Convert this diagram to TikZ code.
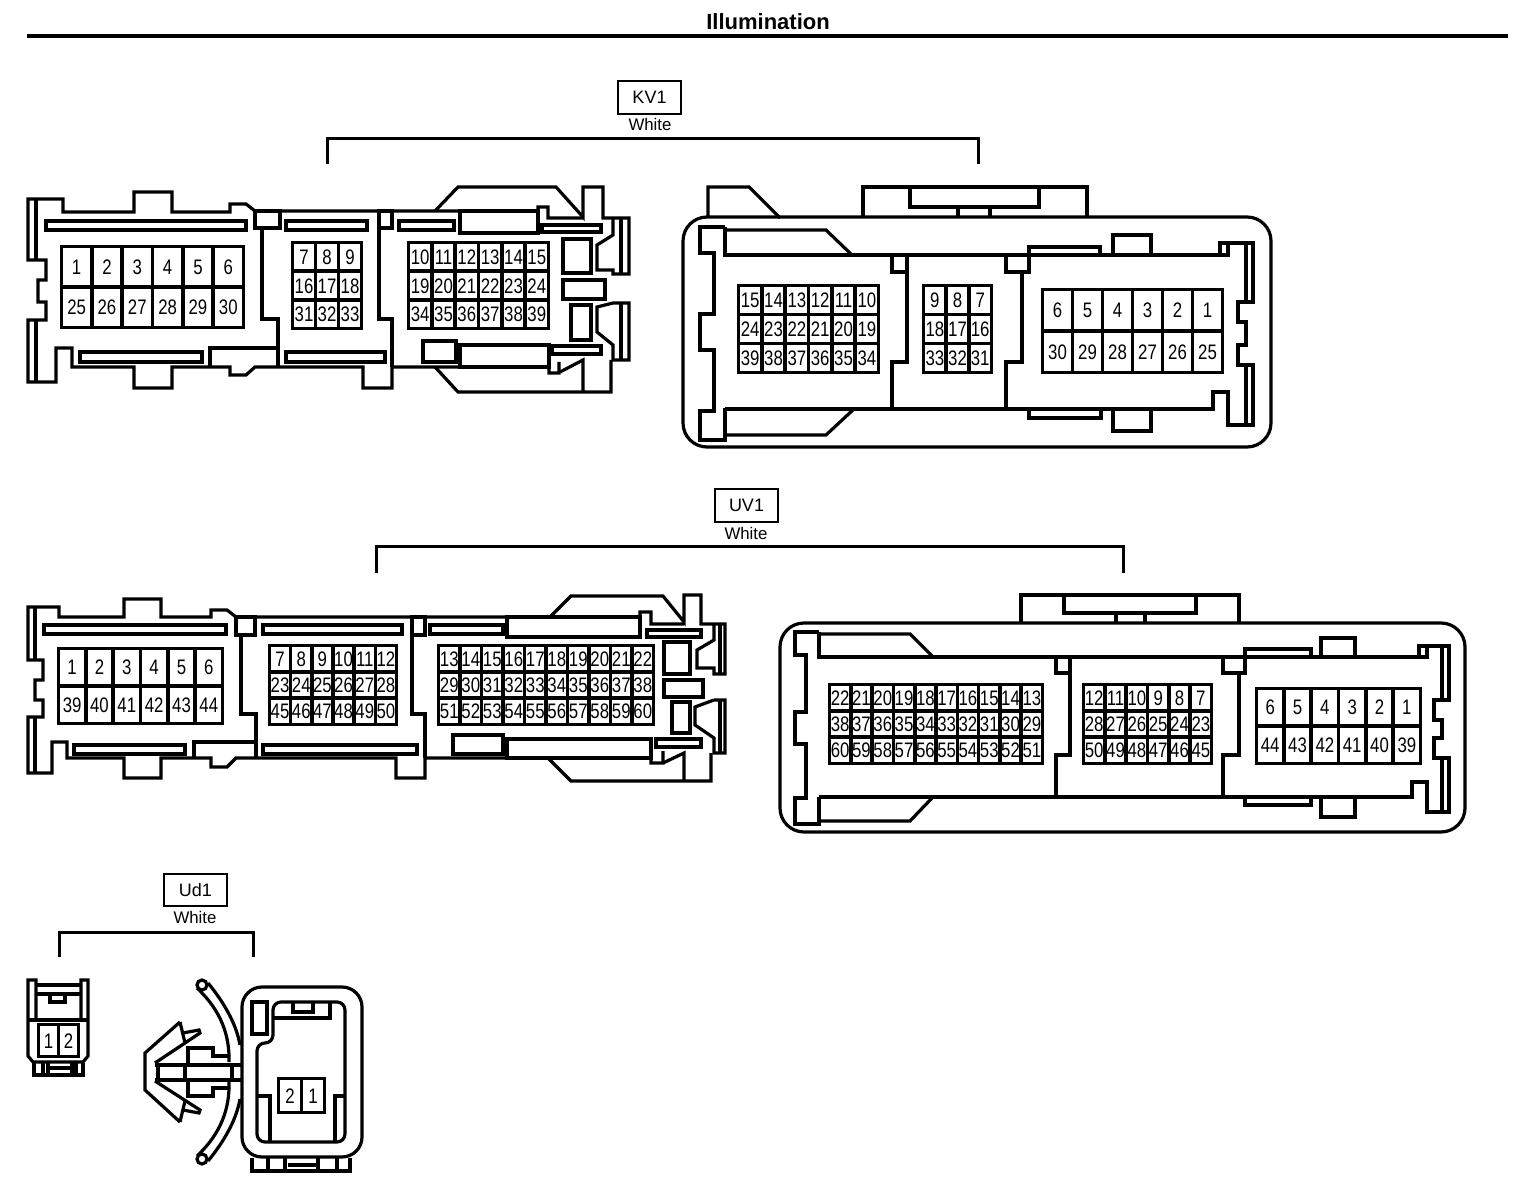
\documentclass[tikz,border=0pt]{standalone}
\usepackage{fontspec}
\setmainfont{Liberation Sans}
\newfontfamily\pinfont[FakeStretch=0.8]{Liberation Sans}
\tikzset{
  shell/.style={draw,line width=1.6pt},
  slot/.style={draw,line width=1.6pt},
  pincell/.style={draw,line width=1.8pt,inner sep=0pt,text height=7.6pt,text depth=0pt,font=\pinfont\fontsize{10.5}{10.5}\selectfont},
  tagbox/.style={draw,line width=0.8pt,inner sep=0pt,font=\fontsize{9}{9}\selectfont},
  colourtext/.style={inner sep=0pt,font=\fontsize{8.4}{9}\selectfont},
  bracket/.style={draw,line width=1.5pt}
}
% name, x0, y0, x1, y1, columns, rows, labels
\newcommand{\pinblock}[8]{
  \pgfmathsetmacro{\cellw}{(#4-#2-3)/#6}
  \pgfmathsetmacro{\cellh}{(#5-#3-3)/#7}
  \foreach \lab [count=\idx from 0] in {#8} {
    \pgfmathtruncatemacro{\rowno}{int(\idx/#6)}
    \pgfmathtruncatemacro{\colno}{\idx-\rowno*#6}
    \node[pincell,minimum width={\cellw*0.5pt},minimum height={\cellh*0.5pt}] (#1-\lab)
      at (#2+1.5+\cellw*\colno+\cellw/2,#3+1.5+\cellh*\rowno+\cellh/2) {\lab};
  }
}
\begin{document}
\begin{tikzpicture}[x=0.5pt,y=-0.5pt]
  \useasboundingbox (0,0) rectangle (1536,1186);
  \node[inner sep=0pt,font=\bfseries\fontsize{11}{11}\selectfont] (title) at (768,22) {Illumination};
  \coordinate (ruleL) at (27,36);
  \coordinate (ruleR) at (1508,36);
  \draw[line width=2pt] (ruleL) -- (ruleR);

  % KV1 heading
  \node[tagbox,minimum width=31.5pt,minimum height=16.5pt] (kv1tag) at (649.5,97.5) {KV1};
  \node[colourtext] (kv1col) at (650,125) {White};
  \coordinate (kv1L) at (327,164);
  \coordinate (kv1R) at (978,164);
  \draw[bracket] (kv1L) -- (327,139) -- (978,139) -- (kv1R);

  % KV1 left view
  \draw[shell] (36,199) -- (28,199) -- (28,260) -- (46,260) -- (46,280) -- (38,280) -- (38,302) -- (46,302) -- (46,320) -- (28,320) -- (28,382) -- (56,382) -- (56,348) -- (72,348) -- (72,367) -- (134,367) -- (134,388) -- (172,388) -- (172,367) -- (230,367) -- (230,375) -- (246,375) -- (255,367) -- (363,367) -- (363,388) -- (392,388) -- (392,367) -- (549,367) -- (549,373) -- (559,373) -- (559,362);
  \draw[shell] (36,199) -- (63,199) -- (63,212) -- (134,212) -- (134,192) -- (172,192) -- (172,212) -- (230,212) -- (230,204) -- (246,204) -- (255,211) -- (538,211) -- (538,207) -- (548,207) -- (548,218) -- (583,218);
  \draw[shell] (36,199) -- (36,260) (36,320) -- (36,382);
  \draw[shell] (435,211) -- (458,187) -- (556,187) -- (583,217) -- (583,187) -- (603,187) -- (603,218) -- (629,218) -- (629,274) -- (613,274) -- (613,270) -- (597,270) -- (597,245) -- (613,235) -- (613,218);
  \draw[shell] (621,218) -- (621,274) (621,303) -- (621,360);
  \draw[shell] (613,303) -- (629,303) -- (629,360) -- (613,360) -- (613,345) -- (597,332) -- (597,307) -- (613,303);
  \draw[shell] (435,367) -- (458,392) -- (611,392) -- (611,360) (583,392) -- (583,360) -- (560,372);
  \draw[shell] (255,211) rectangle (280,228);
  \draw[shell] (379,211) rectangle (392,228);
  \draw[shell] (262,228) -- (262,319) -- (278,319) -- (278,367);
  \draw[shell] (379,228) -- (379,319) -- (392,319) -- (392,367);
  \draw[shell] (278,348) -- (210,348) -- (210,367);
  \draw[shell] (460,211) rectangle (538,233);
  \draw[shell] (460,345) rectangle (549,367);
  \draw[shell] (423,341) rectangle (456,362);
  \draw[shell] (563,239) rectangle (591,273);
  \draw[shell] (563,280) rectangle (605,299);
  \draw[shell] (571,305) rectangle (591,340);
  \draw[slot] (46,221) rectangle (246,230);
  \draw[slot] (286,221) rectangle (367,230);
  \draw[slot] (399,221) rectangle (454,230);
  \draw[slot] (542,225) rectangle (601,232);
  \draw[slot] (80,352) rectangle (202,362);
  \draw[slot] (286,352) rectangle (385,362);
  \draw[slot] (552,346) rectangle (601,354);
  \pinblock{kvla}{60}{245}{245}{329}{6}{2}{1,2,3,4,5,6,25,26,27,28,29,30}
  \pinblock{kvlb}{291}{241}{363}{330}{3}{3}{7,8,9,16,17,18,31,32,33}
  \pinblock{kvlc}{407}{241}{550}{330}{6}{3}{10,11,12,13,14,15,19,20,21,22,23,24,34,35,36,37,38,39}

  % KV1 right view
  \draw[shell,rounded corners=12pt] (683,217) rectangle (1271,447);
  \draw[shell] (708,217) -- (708,187) -- (749,187) -- (780,218);
  \draw[shell] (863,217) -- (863,187) -- (1087,187) -- (1087,217);
  \draw[shell] (910,187) -- (910,207) -- (1039,207) -- (1039,187);
  \draw[shell] (958,207) -- (958,217) (990,207) -- (990,217);
  \draw[shell] (725,227) -- (700,227) -- (700,253) -- (714,253) -- (714,314) -- (700,314) -- (700,350) -- (714,350) -- (714,411) -- (700,411) -- (700,440) -- (725,440) -- (725,408);
  \draw[shell] (725,227) -- (725,255) -- (1228,255) -- (1228,243) -- (1220,243) -- (1220,255);
  \draw[shell] (1228,243) -- (1253,243) -- (1253,302) -- (1238,302) -- (1238,322) -- (1246,322) -- (1246,345) -- (1238,345) -- (1238,365) -- (1253,365) -- (1253,425) -- (1228,425) -- (1228,392) -- (1213,392) -- (1213,409) -- (725,409);
  \draw[shell] (1246,243) -- (1246,302) (1246,365) -- (1246,425);
  \draw[shell] (725,230) -- (826,230) -- (852,255);
  \draw[shell] (725,435) -- (826,435) -- (854,409);
  \draw[shell] (892,255) -- (892,272) -- (907,272);
  \draw[shell] (907,255) -- (907,362) -- (892,362) -- (892,409);
  \draw[shell] (1006,255) -- (1006,272) -- (1029,272) -- (1029,255);
  \draw[shell] (1022,272) -- (1022,362) -- (1006,362) -- (1006,409);
  \draw[shell] (1029,255) -- (1029,247) -- (1100,247) -- (1100,255);
  \draw[shell] (1113,255) -- (1113,235) -- (1151,235) -- (1151,255);
  \draw[shell] (1029,409) -- (1029,418) -- (1101,418) -- (1101,409);
  \draw[shell] (1113,409) -- (1113,431) -- (1151,431) -- (1151,409);
  \pinblock{kvra}{737}{284}{880}{374}{6}{3}{15,14,13,12,11,10,24,23,22,21,20,19,39,38,37,36,35,34}
  \pinblock{kvrb}{922}{284}{993}{374}{3}{3}{9,8,7,18,17,16,33,32,31}
  \pinblock{kvrc}{1041}{288}{1224}{374}{6}{2}{6,5,4,3,2,1,30,29,28,27,26,25}

  % UV1 heading
  \node[tagbox,minimum width=31.5pt,minimum height=16.5pt] (uv1tag) at (746.5,505.5) {UV1};
  \node[colourtext] (uv1col) at (746,533) {White};
  \coordinate (uv1L) at (376,573);
  \coordinate (uv1R) at (1123,573);
  \draw[bracket] (uv1L) -- (376,547) -- (1123,547) -- (uv1R);

  % UV1 left view
  \draw[shell] (35,607) -- (28,607) -- (28,660) -- (43,660) -- (43,680) -- (35,680) -- (35,700) -- (43,700) -- (43,717) -- (28,717) -- (28,773) -- (52,773) -- (52,742) -- (67,742) -- (67,758) -- (124,758) -- (124,778) -- (161,778) -- (161,758) -- (211,758) -- (211,767) -- (227,767) -- (236,758) -- (396,758) -- (396,778) -- (425,778) -- (425,758) -- (651,758) -- (651,763) -- (663,763) -- (663,751);
  \draw[shell] (35,607) -- (59,607) -- (59,617) -- (124,617) -- (124,599) -- (161,599) -- (161,617) -- (211,617) -- (211,610) -- (227,610) -- (236,617) -- (640,617) -- (640,612) -- (651,612) -- (651,624) -- (684,624);
  \draw[shell] (35,607) -- (35,660) (35,717) -- (35,773);
  \draw[shell] (550,617) -- (571,596) -- (663,596) -- (684,622) -- (684,595) -- (701,595) -- (701,624) -- (725,624) -- (725,674) -- (714,674) -- (714,668) -- (697,668) -- (697,650) -- (714,640) -- (714,624);
  \draw[shell] (720,624) -- (720,674) (720,700) -- (720,753);
  \draw[shell] (714,700) -- (725,700) -- (725,753) -- (714,753) -- (714,738) -- (695,725) -- (695,707) -- (714,700);
  \draw[shell] (548,758) -- (571,781) -- (711,781) -- (711,753) (684,781) -- (684,753) -- (663,763);
  \draw[shell] (236,617) rectangle (255,635);
  \draw[shell] (412,617) rectangle (425,635);
  \draw[shell] (241,635) -- (241,714) -- (256,714) -- (256,758);
  \draw[shell] (412,635) -- (412,714) -- (425,714) -- (425,758);
  \draw[shell] (256,742) -- (194,742) -- (194,758);
  \draw[shell] (507,617) rectangle (640,637);
  \draw[shell] (507,739) rectangle (651,758);
  \draw[shell] (453,735) rectangle (503,754);
  \draw[shell] (664,642) rectangle (690,674);
  \draw[shell] (664,680) rectangle (703,697);
  \draw[shell] (672,702) rectangle (690,733);
  \draw[slot] (44,625) rectangle (226,634);
  \draw[slot] (263,625) rectangle (402,634);
  \draw[slot] (430,625) rectangle (503,634);
  \draw[slot] (647,630) rectangle (701,637);
  \draw[slot] (74,745) rectangle (185,754);
  \draw[slot] (263,745) rectangle (417,754);
  \draw[slot] (656,739) rectangle (701,747);
  \pinblock{uvla}{57}{647}{224}{725}{6}{2}{1,2,3,4,5,6,39,40,41,42,43,44}
  \pinblock{uvlb}{268}{644}{398}{726}{6}{3}{7,8,9,10,11,12,23,24,25,26,27,28,45,46,47,48,49,50}
  \pinblock{uvlc}{437}{644}{655}{726}{10}{3}{13,14,15,16,17,18,19,20,21,22,29,30,31,32,33,34,35,36,37,38,51,52,53,54,55,56,57,58,59,60}

  % UV1 right view
  \draw[shell,rounded corners=12pt] (780,623) rectangle (1465,832);
  \draw[shell] (1021,623) -- (1021,595) -- (1239,595) -- (1239,623);
  \draw[shell] (1064,595) -- (1064,613) -- (1196,613) -- (1196,595);
  \draw[shell] (1116,613) -- (1116,623) (1145,613) -- (1145,623);
  \draw[shell] (819,632) -- (795,632) -- (795,655) -- (806,655) -- (806,712) -- (795,712) -- (795,744) -- (806,744) -- (806,798) -- (795,798) -- (795,824) -- (819,824) -- (819,797);
  \draw[shell] (819,632) -- (819,657) -- (1427,657) -- (1427,646) -- (1419,646) -- (1419,657);
  \draw[shell] (1427,646) -- (1449,646) -- (1449,700) -- (1434,700) -- (1434,720) -- (1442,720) -- (1442,738) -- (1434,738) -- (1434,758) -- (1449,758) -- (1449,812) -- (1427,812) -- (1427,782) -- (1412,782) -- (1412,797) -- (819,797);
  \draw[shell] (1442,646) -- (1442,700) (1442,758) -- (1442,812);
  \draw[shell] (819,634) -- (910,634) -- (933,657);
  \draw[shell] (819,821) -- (910,821) -- (933,797);
  \draw[shell] (1056,657) -- (1056,673) -- (1070,673);
  \draw[shell] (1070,657) -- (1070,755) -- (1056,755) -- (1056,797);
  \draw[shell] (1223,657) -- (1223,673) -- (1245,673) -- (1245,657);
  \draw[shell] (1239,673) -- (1239,755) -- (1223,755) -- (1223,797);
  \draw[shell] (1245,657) -- (1245,649) -- (1311,649) -- (1311,657);
  \draw[shell] (1321,657) -- (1321,638) -- (1355,638) -- (1355,657);
  \draw[shell] (1245,797) -- (1245,805) -- (1311,805) -- (1311,797);
  \draw[shell] (1321,797) -- (1321,817) -- (1355,817) -- (1355,797);
  \pinblock{uvra}{828}{683}{1044}{765}{10}{3}{22,21,20,19,18,17,16,15,14,13,38,37,36,35,34,33,32,31,30,29,60,59,58,57,56,55,54,53,52,51}
  \pinblock{uvrb}{1082}{683}{1213}{765}{6}{3}{12,11,10,9,8,7,28,27,26,25,24,23,50,49,48,47,46,45}
  \pinblock{uvrc}{1255}{687}{1422}{765}{6}{2}{6,5,4,3,2,1,44,43,42,41,40,39}

  % Ud1 heading
  \node[tagbox,minimum width=31.5pt,minimum height=16pt] (ud1tag) at (195.5,890) {Ud1};
  \node[colourtext] (ud1col) at (195,917) {White};
  \coordinate (ud1L) at (59,957);
  \coordinate (ud1R) at (253,957);
  \draw[bracket] (ud1L) -- (59,932) -- (253,932) -- (ud1R);

  % Ud1 plug
  \draw[shell] (36,1020) -- (36,980) -- (28,980) -- (28,1056) -- (33,1062) -- (83,1062) -- (88,1056) -- (88,980) -- (81,980) -- (81,1020);
  \draw[shell] (36,985) -- (81,985) (36,994) -- (81,994);
  \draw[shell] (50,994) -- (50,1002) -- (65,1002) -- (65,994);
  \draw[shell] (28,1020) -- (88,1020);
  \draw[shell] (34,1063) -- (34,1075) -- (83,1075) -- (83,1063);
  \draw[shell] (43,1063) -- (43,1075) (48,1063) -- (48,1075) (72,1063) -- (72,1075) (76,1063) -- (76,1075) (48,1068) -- (72,1068);
  \pinblock{udp}{37}{1023}{80}{1058}{2}{1}{1,2}

  % Ud1 socket with clip
  \draw[shell,rounded corners=10pt] (242,987) rectangle (362,1157);
  \draw[shell] (252,1158) -- (252,1171) -- (350,1171) -- (350,1158);
  \draw[shell] (268,1158) -- (268,1171) (285,1158) -- (285,1171) (318,1158) -- (318,1171) (337,1158) -- (337,1171) (288,1165) -- (316,1165);
  \draw[shell,rounded corners=4pt] (273,1043) -- (273,1002) -- (345,1002) -- (345,1142) -- (257,1142) -- (257,1043) -- cycle;
  \draw[shell] (293,1003) -- (293,1012) -- (313,1012) -- (313,1003);
  \draw[shell] (273,1018) -- (330,1018) -- (330,1003);
  \draw[shell] (252,1002) rectangle (267,1034);
  \draw[shell] (257,1096) -- (270,1096) -- (270,1142);
  \draw[shell] (345,1096) -- (335,1096) -- (335,1142);
  \pinblock{uds}{277}{1077}{326}{1114}{2}{1}{2,1}
  \draw[shell] (208,983) .. controls (222,1000) and (236,1022) .. (240,1045);
  \draw[shell] (197,988) .. controls (215,1005) and (230,1028) .. (229,1062);
  \draw[shell] (208,1161) .. controls (222,1144) and (236,1122) .. (240,1099);
  \draw[shell] (197,1156) .. controls (215,1139) and (230,1116) .. (229,1082);
  \draw[shell,fill=white] (202,985) circle (5);
  \draw[shell,fill=white] (202,1159) circle (5);
  \draw[shell] (180,1022) -- (145,1053) -- (145,1090) -- (180,1122);
  \draw[shell] (180,1022) -- (185,1043);
  \draw[shell] (180,1122) -- (185,1101);
  \draw[shell] (155,1063) -- (200,1033) -- (199,1030) -- (183,1033);
  \draw[shell] (155,1081) -- (200,1110) -- (199,1113) -- (183,1110);
  \draw[shell] (155,1065) -- (242,1065) (155,1080) -- (242,1080);
  \draw[shell] (158,1065) -- (158,1080) (185,1065) -- (185,1080) (232,1065) -- (232,1080);
  \draw[shell] (188,1065) -- (188,1048) -- (213,1048) -- (213,1056) -- (228,1056);
  \draw[shell] (188,1080) -- (188,1096) -- (213,1096) -- (213,1088) -- (228,1088);
\end{tikzpicture}
\end{document}
